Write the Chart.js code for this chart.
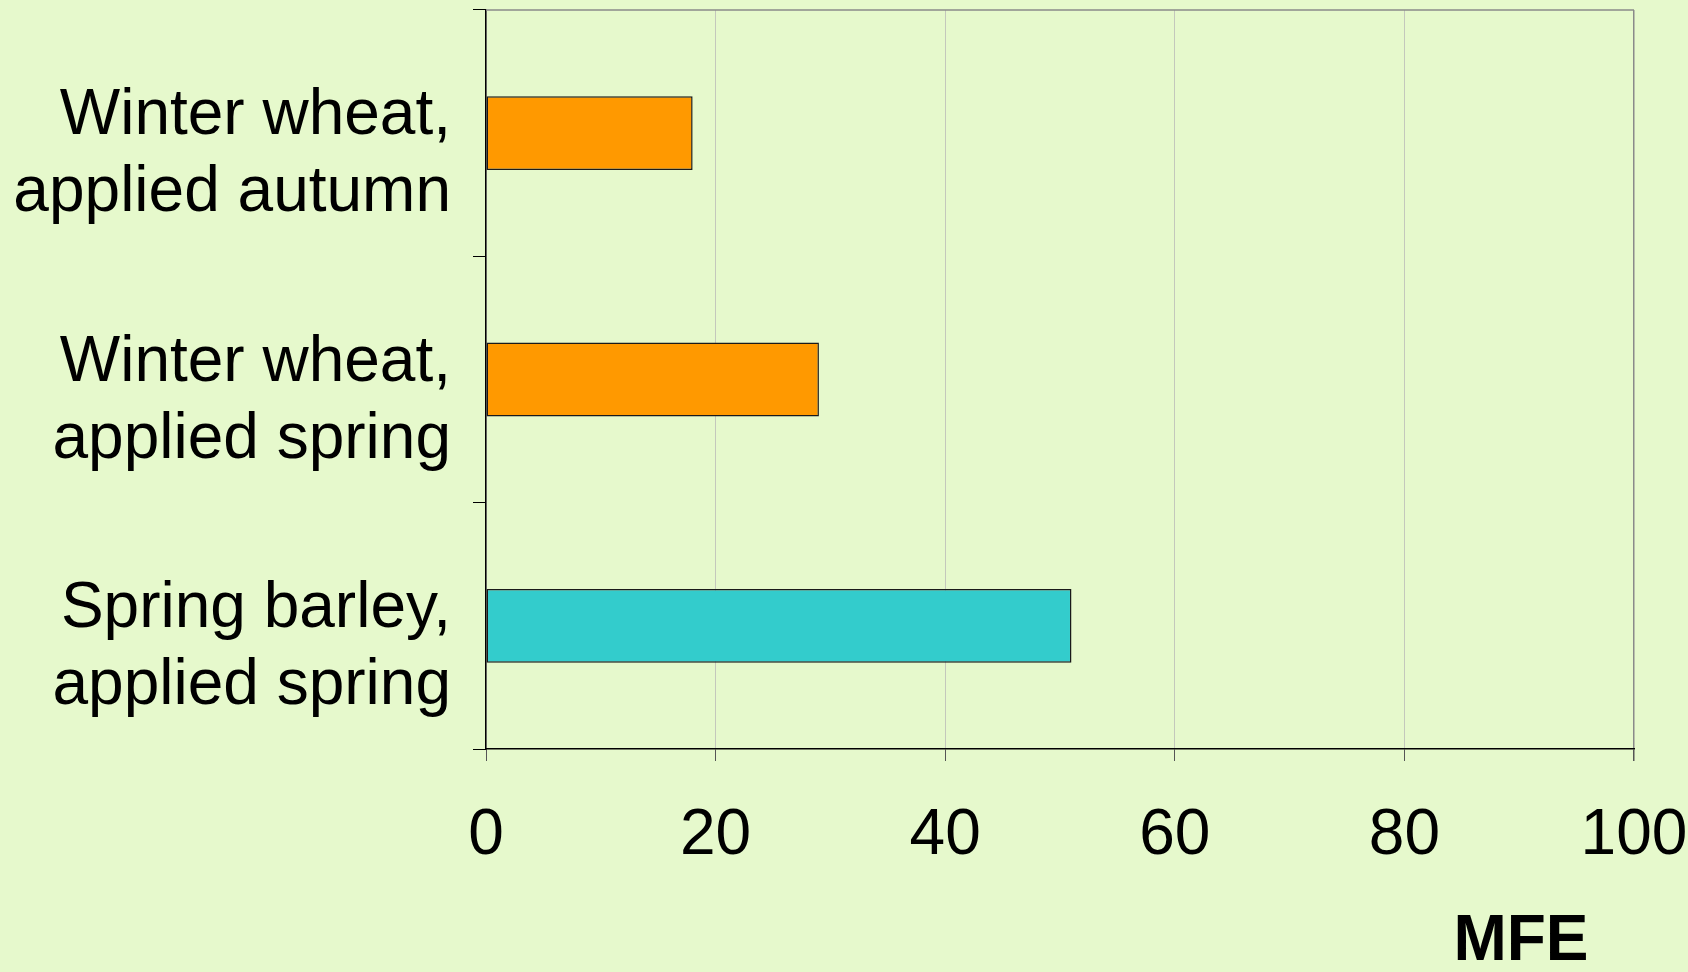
<!DOCTYPE html>
<html>
<head>
<meta charset="utf-8">
<script src="https://cdn.jsdelivr.net/npm/chart.js@4/dist/chart.umd.min.js"></script>
<style>
  html, body { margin: 0; padding: 0; background: #e6f9cc; }
  #wrap { width: 1688px; height: 972px; }
</style>
</head>
<body>
<div id="wrap"><canvas id="graficoMfe"></canvas></div>
<script>
const categories = [
  ['Winter wheat,', 'applied autumn'],
  ['Winter wheat,', 'applied spring'],
  ['Spring barley,', 'applied spring']
];
const mfeValues = [18, 29, 51];
const barColors = ['#ff9900', '#ff9900', '#33cccc'];
const xTicks = [0, 20, 40, 60, 80, 100];
const axisTitle = 'MFE';

const FONT = "'Liberation Sans', Arial, sans-serif";

// borda de cima e título do eixo
const extras = {
  id: 'extras',
  afterDraw(chart) {
    const { ctx, chartArea } = chart;
    ctx.save();
    ctx.strokeStyle = '#8a8a8a';
    ctx.lineWidth = 1.5;
    ctx.beginPath();
    ctx.moveTo(chartArea.left, chartArea.top);
    ctx.lineTo(chartArea.right, chartArea.top);
    ctx.stroke();
    ctx.fillStyle = '#000';
    ctx.font = 'bold 64px ' + FONT;
    ctx.textAlign = 'center';
    ctx.textBaseline = 'middle';
    ctx.fillText(axisTitle, 1521, 942);
    ctx.restore();
  }
};

window.addEventListener('DOMContentLoaded', () => {
  const ctx = document.getElementById('graficoMfe').getContext('2d');
  new Chart(ctx, {
    type: 'bar',
    data: {
      labels: categories,
      datasets: [{
        data: mfeValues,
        backgroundColor: barColors,
        borderColor: '#1a1a1a',
        borderWidth: 1.5,
        borderSkipped: false,
        barPercentage: 0.3,
        categoryPercentage: 1
      }]
    },
    options: {
      indexAxis: 'y',
      responsive: true,
      maintainAspectRatio: false,
      animation: false,
      layout: { padding: { top: 10, right: 54, left: 0, bottom: 0 } },
      plugins: {
        legend: { display: false },
        tooltip: { enabled: false }
      },
      scales: {
        x: {
          min: 0,
          max: 100,
          afterBuildTicks: (scale) => { scale.ticks = xTicks.map(v => ({ value: v })); },
          afterFit: (scale) => {
            scale.height = 223;
            scale.paddingLeft = 0;
            scale.paddingRight = 0;
          },
          border: { color: '#000', width: 1.5 },
          grid: {
            color: (c) => c.tick && c.tick.value === 100 ? '#8a8a8a' : '#c4c8bc',
            lineWidth: (c) => c.tick && c.tick.value === 100 ? 1.5 : 1,
            tickColor: '#555',
            tickLength: 12
          },
          ticks: {
            color: '#000',
            padding: 37,
            font: { family: FONT, size: 64 }
          }
        },
        y: {
          afterFit: (scale) => {
            scale.width = 486;
            scale.paddingTop = 0;
            scale.paddingBottom = 0;
          },
          border: { color: '#000', width: 1.5 },
          grid: {
            offset: true,
            drawOnChartArea: false,
            tickColor: '#000',
            tickLength: 13
          },
          ticks: {
            color: '#000',
            padding: 22,
            labelOffset: 22,
            font: { family: FONT, size: 64, lineHeight: 1.2 }
          }
        }
      }
    },
    plugins: [extras]
  });
});
</script>
</body>
</html>
